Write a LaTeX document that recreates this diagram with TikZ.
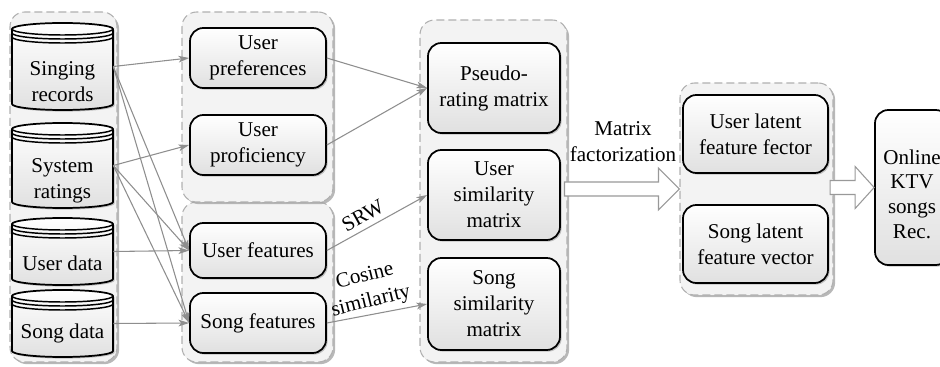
\documentclass[tikz,border=0pt]{standalone}
\usepackage{fontspec}
\setmainfont{Liberation Serif}
\usetikzlibrary{arrows.meta,shadows,fit,calc}
\definecolor{grpfill}{HTML}{F3F3F3}
\definecolor{grpline}{HTML}{B0B0B0}
\definecolor{arrgray}{HTML}{8E8E8E}
\tikzset{
  grp/.style={draw=grpline, dash pattern=on 6pt off 3pt, line width=0.8pt, fill=grpfill,
    rounded corners=11pt, inner sep=0pt,
    drop shadow={shadow xshift=1.6pt, shadow yshift=-1.6pt, fill=black!35, opacity=.8}},
  box/.style={draw=black, line width=1.3pt, rounded corners=10pt, top color=white,
    bottom color=black!12, inner sep=0pt,
    drop shadow={shadow xshift=1.2pt, shadow yshift=-1.2pt, fill=black!30, opacity=.8}},
  cyl/.style={draw=black, line width=1.3pt, top color=white, bottom color=black!12,
    drop shadow={shadow xshift=1.2pt, shadow yshift=-1.2pt, fill=black!30, opacity=.8}},
  cylring/.style={draw=black, line width=1.1pt},
  lbl/.style={font=\fontsize{15.8}{19.5}\selectfont, align=center, inner sep=1pt},
  link/.style={draw=arrgray, line width=0.8pt, -{Stealth[length=8pt,width=5pt,inset=2pt]}},
  fat/.style={draw=black!40, line width=0.8pt, fill=white},
}
\newcommand\dbcyl[7]{%
  \pgfmathsetmacro\cyA{(#2+#4)/2}%
  \pgfmathsetmacro\cyK{0.5523*(#4-#2)/2}%
  \pgfmathsetmacro\cyT{#3+6}%
  \pgfmathsetmacro\cyB{#5-6}%
  \draw[cyl] (#2,\cyT) -- (#2,\cyB)
    .. controls (#2,\cyB+3.314) and (\cyA-\cyK,#5) .. (\cyA,#5)
    .. controls (\cyA+\cyK,#5) and (#4,\cyB+3.314) .. (#4,\cyB)
    -- (#4,\cyT)
    .. controls (#4,\cyT-3.314) and (\cyA+\cyK,#3) .. (\cyA,#3)
    .. controls (\cyA-\cyK,#3) and (#2,\cyT-3.314) .. cycle;
  \foreach \o in {0,4,8} {
    \draw[cylring] (#2,\cyT+\o)
      .. controls (#2,\cyT+\o+3.314) and (\cyA-\cyK,\cyT+\o+6) .. (\cyA,\cyT+\o+6)
      .. controls (\cyA+\cyK,\cyT+\o+6) and (#4,\cyT+\o+3.314) .. (#4,\cyT+\o);
  }
  \node[fit={(#2,#3) (#4,#5)}, inner sep=0pt] (#1) {};
  \node[lbl] (#1-t) at (\cyA,#6) {#7};
}
% rounded box with centred text: name, x1, y1, x2, y2, text
\newcommand\rbox[6]{%
  \node[box, fit={(#2,#3) (#4,#5)}] (#1) {};
  \node[lbl] (#1-t) at (#1.center) {#6};
}
\begin{document}
\begin{tikzpicture}[x=0.75pt,y=-0.75pt]
\useasboundingbox (0,0) rectangle (940,367);

% groups
\node[grp, fit={(10,12) (117,362)}] (g1) {};
\node[grp, fit={(182,202) (333,362)}] (g2b) {};
\node[grp, fit={(182,12) (333,202)}] (g2a) {};
\node[grp, fit={(420,20) (567,362)}] (g3) {};
\node[grp, fit={(680,83) (833,295)}] (g4) {};

% databases
\dbcyl{sr}{12}{23}{113}{110}{82}{Singing\\records}
\dbcyl{sys}{12}{123}{113}{208}{181}{System\\ratings}
\dbcyl{ud}{12}{218}{113}{285}{263}{User data}
\dbcyl{sd}{12}{290}{113}{357}{333}{Song data}

% boxes
\rbox{up}{190}{28}{326}{88}{User\\preferences}
\rbox{upro}{190}{115}{326}{175}{User\\proficiency}
\rbox{uf}{190}{223}{326}{278}{User features}
\rbox{sf}{190}{293}{326}{353}{Song features}
\rbox{pr}{428}{43}{560}{133}{Pseudo-\\rating matrix}
\rbox{us}{428}{150}{560}{240}{User\\similarity\\matrix}
\rbox{ss}{428}{258}{560}{350}{Song\\similarity\\matrix}
\rbox{ul}{683}{95}{828}{173}{User latent\\feature fector}
\rbox{sl}{683}{205}{828}{283}{Song latent\\feature vector}
\node[box, fit={(875,110) (949,265)}] (ok) {};
\node[lbl, font=\fontsize{15.8}{18.6}\selectfont] (ok-t) at ([yshift=-5pt]ok.center) {Online\\KTV\\songs\\Rec.};

% hollow arrows
\draw[fat] (g4.west) -- ++(-21,-21) -- ++(0,14) -- ++(-94,0) -- ++(0,14)
  -- ++(94,0) -- ++(0,14) -- cycle;
\draw[fat] (ok.west) -- ++(-19,-21) -- ++(0,14) -- ++(-25,0) -- ++(0,14)
  -- ++(25,0) -- ++(0,14) -- cycle;
\node[lbl] (mf) at (623,142) {Matrix\\factorization};

% links
\draw[link] (sr.east) -- (up.west);
\draw[link] (sr.east) -- (uf.west);
\draw[link] (sr.east) -- (sf.west);
\draw[link] (sys.east) -- (upro.west);
\draw[link] (sys.east) -- (uf.west);
\draw[link] (sys.east) -- (sf.west);
\draw[link] (ud.east) -- (uf.west);
\draw[link] (sd.east) -- (sf.west);
\draw[link] (up.east) -- (pr.west);
\draw[link] (upro.east) -- (pr.west);
\draw[link] (uf.east) -- node[lbl, sloped, above=3pt, pos=0.42] (srw) {SRW} (us.west);
\draw[link] (sf.east) -- node[lbl, sloped, above=1pt, pos=0.47, rotate=3] (cos) {Cosine\\similarity} (ss.west);
\end{tikzpicture}
\end{document}
